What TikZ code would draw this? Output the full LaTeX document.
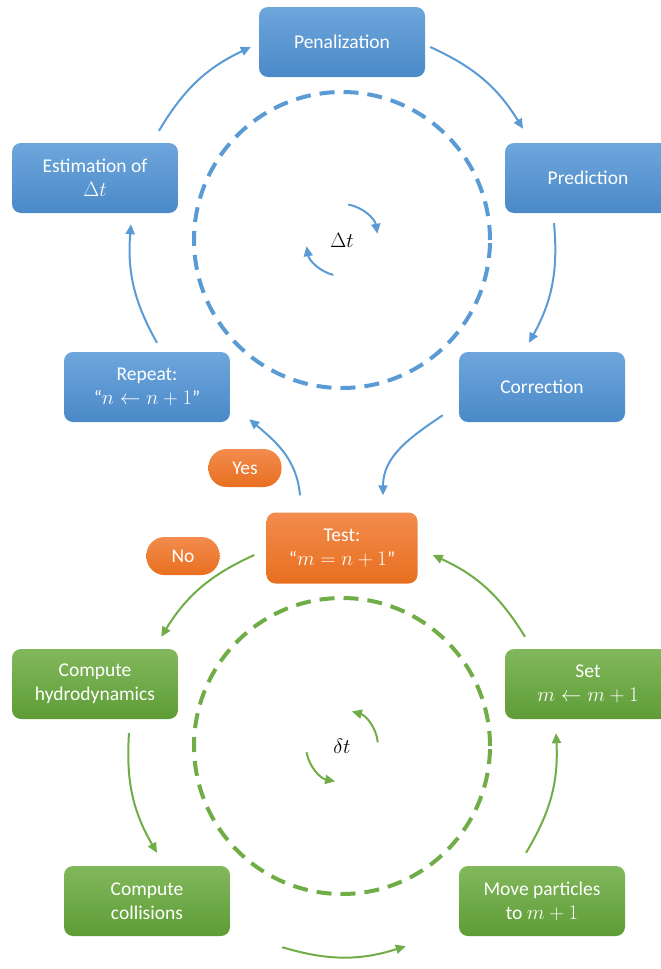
\documentclass[tikz,border=0pt]{standalone}
\usepackage{fontspec}
\setmainfont{Carlito}
\usetikzlibrary{arrows.meta}
\definecolor{bltop}{HTML}{6EA6DC}
\definecolor{blbot}{HTML}{4A89C8}
\definecolor{ortop}{HTML}{F28C4E}
\definecolor{orbot}{HTML}{E86F1F}
\definecolor{grtop}{HTML}{82B85C}
\definecolor{grbot}{HTML}{5E9C36}
\definecolor{blline}{HTML}{5B9BD5}
\definecolor{grline}{HTML}{70AD47}
\begin{document}
\begin{tikzpicture}[x=1pt, y=1pt,
    box/.style={rectangle, rounded corners=9pt, minimum width=166pt, minimum height=70pt,
      inner sep=2pt, align=center, text=white, font=\fontsize{19.5}{24}\selectfont},
    bluebox/.style={box, top color=bltop, bottom color=blbot},
    greenbox/.style={box, top color=grtop, bottom color=grbot},
    testbox/.style={box, minimum width=151pt, minimum height=71pt, top color=ortop, bottom color=orbot},
    bubble/.style={box, minimum width=73pt, minimum height=38pt, rounded corners=18pt,
      top color=ortop, bottom color=orbot},
    cycletext/.style={font=\fontsize{21}{24}\selectfont},
    bluearrow/.style={draw=blline, line width=2pt, -{Triangle[length=10pt,width=9pt]}},
    greenarrow/.style={draw=grline, line width=2pt, -{Triangle[length=10pt,width=9pt]}},
    bluedash/.style={draw=blline, line width=4pt, dash pattern=on 15pt off 9pt},
    greendash/.style={draw=grline, line width=4pt, dash pattern=on 15pt off 9pt}]
  \useasboundingbox (0,0) rectangle (661,-969);
  \draw
    (342,-42) node[bluebox] (pen){Penalization}
    (588,-178) node[bluebox] (pred){Prediction}
    (542,-387) node[bluebox] (corr){Correction}
    (147,-387) node[bluebox] (rep){Repeat:\\“$n \leftarrow n+1$”}
    (95,-178) node[bluebox] (est){Estimation of\\$\Delta t$}
    (342,-548) node[testbox] (test){Test:\\“$m = n+1$”}
    (245,-468) node[bubble] (yes){Yes}
    (183,-556) node[bubble] (no){No}
    (95,-684) node[greenbox] (hyd){Compute\\hydrodynamics}
    (588,-684) node[greenbox] (set){Set\\$m \leftarrow m+1$}
    (147,-901) node[greenbox] (col){Compute\\collisions}
    (542,-901) node[greenbox] (move){Move particles\\to $m+1$}
    (342,-240) node[cycletext] (dt){$\Delta t$}
    (342,-746) node[cycletext] (ddt){$\delta t$};
  \draw[bluedash] (dt.center) circle[radius=148];
  \draw[greendash] (ddt.center) circle[radius=148];
  \begin{scope}[bluearrow]
    \draw ([shift={(64,12)}]est.north) to[bend left=17] ([shift={(-8,-5)}]pen.west);
    \draw ([shift={(5,-5)}]pen.east) to[bend left=17] ([shift={(-65,14)}]pred.north);
    \draw ([shift={(-34,-10)}]pred.south) to[bend left=17] ([shift={(-13,9)}]corr.north);
    \draw ([shift={(-16,7)}]corr.south west) to[out=214, in=90] ([shift={(41,17)}]test.north);
    \draw ([shift={(-42,17)}]test.north) to[out=95, in=-40] ([shift={(19,3)}]rep.south east);
    \draw ([shift={(10,9)}]rep.north) to[bend left=17] ([shift={(36,-11)}]est.south);
    \draw (dt.center) ++(80:36) arc[start angle=80, end angle=10, radius=36];
    \draw (dt.center) ++(256:36) arc[start angle=256, end angle=190, radius=36];
  \end{scope}
  \begin{scope}[greenarrow]
    \draw ([shift={(-12,-7)}]test.west) to[bend right=17] ([shift={(-17,12)}]hyd.north east);
    \draw ([shift={(34,-14)}]hyd.south) to[bend right=17] ([shift={(10,13)}]col.north);
    \draw ([shift={(52,-11)}]col.south east) to[bend right=17] ([shift={(-53,-10)}]move.south west);
    \draw ([shift={(-16,13)}]move.north) to[bend right=17] ([shift={(-32,-14)}]set.south);
    \draw ([shift={(-63,12)}]set.north) to[bend right=17] ([shift={(15,-7)}]test.east);
    \draw (ddt.center) ++(6:36) arc[start angle=6, end angle=74, radius=36];
    \draw (ddt.center) ++(190:36) arc[start angle=190, end angle=259, radius=36];
  \end{scope}
\end{tikzpicture}
\end{document}
